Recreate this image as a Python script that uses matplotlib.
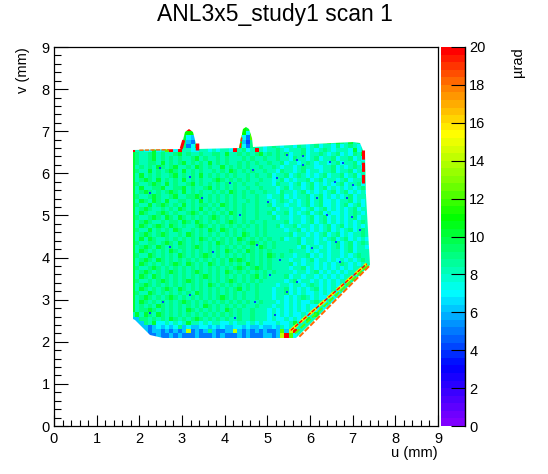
import numpy as np
import matplotlib
matplotlib.use('Agg')
import matplotlib.pyplot as plt
from matplotlib.colors import LinearSegmentedColormap, BoundaryNorm
from matplotlib.patches import Polygon

plt.rcParams['font.family'] = ['Liberation Sans', 'DejaVu Sans']
plt.rcParams['font.size'] = 10

# map estimated by eye on a 0.1 mm grid, u from 1.8, v from 7.1 downwards
# one char per cell: base 36 value in urad, '.' = no data
map_rows = [
    ".............kk...........ba",
    "............bbbb..........b7b",
    "............a76a.........c75c",
    "...........k9658k........b649...........a89a89a8a98a89a9a",
    "...........k957ak........a7598878987887987897887978987898a",
    "k8877a78ck7k887788787887k8978k8788987888978789878887a78a88",
    "a9889a89889a8988988998a8898989a89898978897889878978798a9a8",
    "a9889a898989889a898898988898988988988798878978897889787a98",
    "a988998a8989a89898a8989889898988988978878987887897889787a8",
    "a89898a989a8898a98988a89898988988987887898877889787898788a",
    "a988a8989a98a8989889898a9898988988798878978878897889788998",
    "a8a8989889a89898a898989898898988978897898787897889789788a8",
    "a89a98a89898a8989889a98989898898878978788978978878978888a8",
    "a9889a98a89889a898989898989889888798878978978787897889787a",
    "a8a8899a8899a89889a89898988988988878978878978978787878988a",
    "a89a98989a98a8989889898a9898988988798878978787897897878788",
    "a9889a9889a8899a9898989898988988788978788978978787897888a8",
    "a8a98a98a8899898a89898989889898887898787897897787889787878",
    "a988a89a9898a89899898a9898988988978878878978977878978978a8",
    "a89a9889898a9898a8989898989889888978878878978978787897888a",
    "a8a9889a989889a98989898a98988988978897878978978778789878a8",
    "a9889a98a98a9898989a9898989889888978878878978978787897888a",
    "a89a98898998a98a9898989a989898898888978878978978787878988a",
    "a8a989a98a989889a98989898989898988978897887878978978787878",
    "a988a89898a9889898a98a98989889898888788978787897878978988a",
    "a89a989a98898a989898989898a989898888897887878978978788988a",
    "a8a8a98898989898a98989898a989898988978897887878978978787a8",
    "a9889989a98a98989898a9898989a9898988888978878878978978988a",
    "a89a98a98989989a98989898989898a98988888797887878978978878a",
    "a8a989898a989898989898a9898a98989888898887878878878978888a",
    "a988a989898a98989a98989898989898a98988788978787887878988a8",
    "a89a98a9898989898989898a9a9898989888878878978878787878988a",
    "a8a9898989a98a9898a98989898a98989888897878878787898787888a",
    "a9889a9898989898989898989a989a989888878897878787878788988a",
    "a89a98989a98989a989898a9898989898988887887897878787888888a",
    "a8a98a98989898989a98989898989a898888978878878787878878988a",
    "a988989a98989a989898989a9898989888887897887878787888988888",
    "a89a98989898989898a98989898989888878878878987878788888a888",
    "a8a98989a98a9898989898989a8989888788978787897878878888a888",
    "a988a9898989898a9898989898988988878897878778787878878888a8",
    "a89a98989a98989898989a98989889888788787898787787878888a888",
    "a8a989898989a98989898989898988988878787877898787878a888888",
    "a89898a9898989898a98989898988988878878787877878788a8888888",
    "a899a98989898a98989898a989889888787878787877878a8888888888",
    "8a8a98a989898989898989898988988878787877878a88888888888888",
    "669989898a98989a9898989889889888787787878a8888888888888888",
    "56698a7787878a887878877878878787778778a8888888888888888888",
    "6666567676796766776767667767667667687888888888888888888888",
    "8866566565656e5656965566e6565656556c6ek8888888888888888888",
    "88885565565655565556565556565556656ekc78888888888888888888",
]
u_start = 1.8
v_top = 7.1
cell = 0.1

# sample outline, mm
outline_u = [1.85, 2.98, 3.02, 3.07, 3.16, 3.26, 3.31, 3.35, 4.34, 4.38, 4.44, 4.5, 4.58, 4.63, 4.66,
             7.0, 7.17, 7.29, 7.31, 7.41, 5.65, 2.55, 2.25, 1.9, 1.85]
outline_v = [6.55, 6.57, 6.8, 6.98, 7.05, 6.98, 6.8, 6.57, 6.6, 6.85, 7.05, 7.1, 7.05, 6.85, 6.62,
             6.75, 6.72, 6.44, 5.49, 3.82, 2.07, 2.09, 2.16, 2.52, 2.55]

# isolated low cells, mm
speck_u = [5.69, 5.84, 5.45, 6.47, 6.78, 6.59, 7.0, 6.16, 6.86, 6.39, 6.98, 7.17, 2.25, 3.46, 4.36, 5.02,
           4.12, 2.72, 3.73, 4.75, 5.3, 5.69, 5.45, 4.71, 4.24, 3.19, 2.56, 2.25, 5.18, 5.06, 6.04, 6.7,
           6.62, 2.48, 3.19, 4.67, 5.22, 5.84]
speck_v = [6.32, 6.4, 6.44, 6.28, 6.24, 5.8, 5.72, 5.41, 5.41, 5.01, 4.97, 4.66, 5.53, 5.41, 5.01, 5.33,
           5.76, 4.26, 4.14, 4.3, 3.94, 3.43, 3.19, 2.95, 2.56, 3.11, 2.95, 2.68, 2.64, 3.59, 4.22, 3.9,
           4.38, 6.12, 5.92, 6.08, 5.88, 6.2]
speck_value = 4

# hot edges: u, v, value, line width
rims = [
    ([5.55, 7.33], [2.27, 3.85], 15, 2.2),
    ([5.55, 7.33], [2.27, 3.85], 20, 1.0),
    ([5.65, 7.36], [2.2, 3.82], 12, 1.4),
    ([5.75, 7.39], [2.12, 3.8], 18, 1.4),
    ([7.25, 7.25], [6.55, 5.78], 20, 2.2),
    ([2.98, 3.06], [6.58, 6.85], 20, 2.2),
    ([3.36, 3.36], [6.55, 6.72], 20, 2.5),
    ([2.0, 2.7], [6.55, 6.56], 18, 1.0),
    ([4.36, 4.4], [6.6, 6.85], 19, 1.2),
]

z_levels = 50
z_max = 20
cmap_values = [0, 3, 5, 7, 9, 11, 13, 15.5, 18, 20]
cmap_colors = ['#8000ff', '#0000ff', '#0080ff', '#00ffff', '#00ff80', '#00ff00',
               '#80ff00', '#ffff00', '#ff8000', '#ff0000']

grid = np.full((len(map_rows), 60), np.nan)
for i, row in enumerate(map_rows):
    for j, c in enumerate(row[:60]):
        if c not in '. ':
            grid[i, j] = int(c, 36)

u_edges = u_start + cell * np.arange(grid.shape[1] + 1)
v_edges = v_top - cell * np.arange(grid.shape[0] + 1)

cmap = LinearSegmentedColormap.from_list(
    'rainbow_root', [(v / z_max, c) for v, c in zip(cmap_values, cmap_colors)], N=z_levels)
norm = BoundaryNorm(np.linspace(0, z_max, z_levels + 1), cmap.N)

fig = plt.figure(figsize=(5.48, 4.74), dpi=100)
ax = fig.add_axes([54 / 548, 48 / 474, 384 / 548, 379 / 474])
cax = fig.add_axes([441 / 548, 48 / 474, 24 / 548, 379 / 474])

mesh = ax.pcolormesh(u_edges, v_edges, grid, cmap=cmap, norm=norm, linewidth=0, rasterized=True)
shape = Polygon(np.column_stack([outline_u, outline_v]), closed=True, transform=ax.transData)
mesh.set_clip_path(shape)

ax.scatter(speck_u, speck_v, s=1.2, marker='s', color=cmap(norm(speck_value)), linewidths=0)

for u, v, value, width in rims:
    ax.plot(u, v, color=cmap(norm(value)), lw=width, solid_capstyle='butt', linestyle=(0, (3, 1)))

ax.set_xlim(0, 9)
ax.set_ylim(0, 9)
ax.set_xticks(np.arange(0, 10))
ax.set_yticks(np.arange(0, 10))
ax.set_xticks(np.arange(0, 9.01, 0.2), minor=True)
ax.set_yticks(np.arange(0, 9.01, 0.2), minor=True)
ax.tick_params(axis='x', which='major', direction='in', length=8, width=0.8, pad=4, labelsize=10.5)
ax.tick_params(axis='x', which='minor', direction='in', length=4, width=0.8)
ax.tick_params(axis='y', which='major', direction='in', length=10, width=0.8, pad=3, labelsize=10.5)
ax.tick_params(axis='y', which='minor', direction='in', length=5, width=0.8)
for s in ax.spines.values():
    s.set_linewidth(0.9)

cb = fig.colorbar(mesh, cax=cax, spacing='proportional', drawedges=False)
cb.set_ticks(np.arange(0, 21, 2))
cb.minorticks_off()
cb.outline.set_visible(False)
cax.axvline(1, color='k', lw=1, clip_on=False)
cax.tick_params(axis='y', direction='in', length=10, width=0.8, pad=3, labelsize=10.5, right=True)

fig.text(275 / 548, 1 - 14 / 474, 'ANL3x5_study1 scan 1', ha='center', va='center', fontsize=16.5)
fig.text(438 / 548, 1 - 453 / 474, 'u (mm)', ha='right', va='center', fontsize=10.5)
fig.text(23 / 548, 1 - 47 / 474, 'v (mm)', ha='center', va='top', rotation=90, fontsize=10.5)
fig.text(518 / 548, 1 - 47 / 474, 'µrad', ha='center', va='top', rotation=90, fontsize=10.5)

fig.savefig('out.png', dpi=100)
